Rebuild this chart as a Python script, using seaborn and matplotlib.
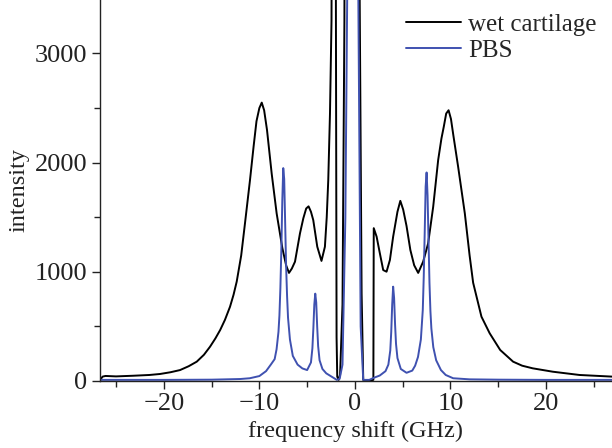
import numpy as np
import pandas as pd
import seaborn as sns
from matplotlib import pyplot as plt
from matplotlib.ticker import MultipleLocator

# wet cartilage spectrum (GHz, counts)
wet_shift = [-26.66, -26.4, -26.1, -25.0, -23.2, -21.5, -20.4, -19.3, -18.3, -17.4,
             -16.55, -15.8, -15.16, -14.6, -14.1, -13.6, -13.07, -12.7, -12.37, -11.9,
             -11.5, -10.98, -10.6, -10.3, -10.0, -9.75, -9.5, -9.2, -8.71, -8.19,
             -7.6, -7.2, -6.9, -6.6, -6.27, -5.75, -5.4, -5.1, -4.85, -4.6,
             -4.36, -3.94, -3.5, -3.14, -2.95, -2.79, -2.61, -2.45, -2.2, -1.98,
             -1.92, -1.85, -1.7, -1.55, -1.3, -1.1, -0.25, 0.5, 0.7, 0.87,
             1.2, 1.6, 1.93, 1.97, 2.27, 2.61, 2.96, 3.31, 3.66, 4.0,
             4.45, 4.75, 5.05, 5.4, 5.8, 6.2, 6.62, 7.14, 7.66, 8.19,
             8.71, 9.05, 9.3, 9.55, 9.8, 10.05, 10.3, 10.8, 11.5, 12.0,
             12.37, 13.24, 14.1, 15.2, 16.55, 17.5, 18.6, 20.7, 23.5, 26.9]
wet_intensity = [10, 40, 46, 42, 48, 55, 64, 80, 100, 135,
                 177, 240, 314, 390, 467, 560, 680, 790, 910, 1150,
                 1447, 1840, 2150, 2380, 2500, 2550, 2480, 2300, 1900, 1535,
                 1220, 1060, 990, 1030, 1093, 1352, 1490, 1580, 1600, 1550,
                 1474, 1230, 1100, 1230, 1500, 1840, 2450, 3300, 12000, 3000,
                 400, 40, 10, 60, 700, 3300, 40000, 3500, 800, 10,
                 5, 5, 10, 1400, 1322, 1169, 1016, 1001, 1108, 1322,
                 1550, 1650, 1570, 1420, 1200, 1060, 990, 1093, 1260, 1596,
                 2024, 2220, 2330, 2450, 2480, 2400, 2250, 1962, 1535, 1150,
                 900, 589, 437, 284, 177, 140, 116, 85, 55, 40]

# PBS spectrum
pbs_shift = [-26.66, -20.0, -15.0, -12.0, -11.0, -10.0, -9.3, -8.8, -8.4, -8.2,
             -8.0, -7.9, -7.8, -7.7, -7.6, -7.5, -7.4, -7.3, -7.2, -7.1,
             -7.0, -6.8, -6.5, -6.0, -5.5, -5.0, -4.6, -4.45, -4.35, -4.25,
             -4.15, -4.05, -3.95, -3.85, -3.7, -3.4, -3.0, -2.26, -1.9, -1.6,
             -1.3, -1.0, -0.8, -0.2, 0.35, 0.6, 0.87, 1.5, 2.0, 2.6,
             3.2, 3.5, 3.7, 3.8, 3.9, 4.0, 4.1, 4.2, 4.3, 4.45,
             4.8, 5.4, 6.0, 6.3, 6.6, 6.9, 7.1, 7.2, 7.3, 7.4,
             7.5, 7.6, 7.7, 7.8, 7.9, 8.0, 8.2, 8.5, 9.0, 9.5,
             10.28, 12.0, 15.0, 20.0, 26.9]
pbs_intensity = [10, 10, 12, 18, 25, 45, 90, 150, 200, 290,
                 450, 600, 850, 1200, 1650, 1950, 1850, 1450, 1050, 780,
                 580, 380, 230, 150, 115, 100, 170, 300, 480, 700,
                 800, 720, 500, 320, 190, 110, 70, 30, 10, 20,
                 150, 1500, 3600, 40000, 3600, 500, 10, 10, 30, 50,
                 90, 150, 280, 450, 700, 864, 760, 520, 340, 210,
                 110, 75, 95, 140, 220, 380, 650, 950, 1350, 1780,
                 1910, 1700, 1300, 900, 640, 480, 310, 190, 100, 55,
                 25, 15, 12, 10, 10]

wet = pd.DataFrame({"shift": wet_shift, "intensity": wet_intensity})
pbs = pd.DataFrame({"shift": pbs_shift, "intensity": pbs_intensity})

sns.set_theme(style="ticks")
plt.rcParams["font.family"] = ["Liberation Serif", "DejaVu Serif"]
plt.rcParams["font.size"] = 17.5

fig, ax = plt.subplots(figsize=(6.12, 4.48), dpi=100)
fig.subplots_adjust(left=0.163, right=1.0, bottom=0.1496, top=1.0)

sns.lineplot(data=wet, x="shift", y="intensity", color="black", lw=1.4,
             estimator=None, sort=False, label="wet cartilage", ax=ax)
sns.lineplot(data=pbs, x="shift", y="intensity", color="#3F51B0", lw=1.4,
             estimator=None, sort=False, label="PBS", ax=ax)

ax.set_xlim(-26.7, 26.9)
ax.set_ylim(0, 3490)
ax.xaxis.set_major_locator(MultipleLocator(10))
ax.xaxis.set_minor_locator(MultipleLocator(5))
ax.yaxis.set_major_locator(MultipleLocator(1000))
ax.yaxis.set_minor_locator(MultipleLocator(500))
ax.tick_params(which="major", length=6, width=1, pad=3, labelsize=19, colors="#222222")
ax.tick_params(which="minor", length=4, width=1, colors="#222222")
for s in ["top", "right"]:
    ax.spines[s].set_visible(False)
for s in ["left", "bottom"]:
    ax.spines[s].set_color("#222222")
    ax.spines[s].set_linewidth(1)

ax.set_xlabel("frequency shift (GHz)", fontsize=17.5, color="#222222", labelpad=4)
ax.set_ylabel("intensity", fontsize=17.5, color="#222222", labelpad=4)

ax.legend(loc="upper right", frameon=False, fontsize=18, handlelength=2.2,
          handletextpad=0.3, labelspacing=0.15, borderaxespad=0.2,
          bbox_to_anchor=(1.0, 1.005))

fig.savefig("out.png", dpi=100)
